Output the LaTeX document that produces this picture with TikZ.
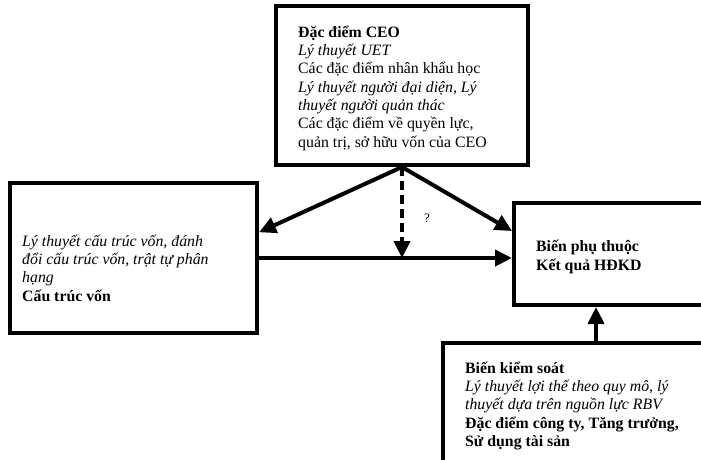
\documentclass[tikz,border=0pt]{standalone}
\usepackage{fontspec}
\setmainfont{Liberation Serif}
\usetikzlibrary{arrows.meta,calc}
\begin{document}
\begin{tikzpicture}[x=1pt,y=-1pt,
  box/.style={draw,line width=4pt,rectangle,inner sep=0pt},
  txt/.style={anchor=base west,align=left,inner sep=0pt,font=\fontsize{15.8}{18.3}\selectfont},
  arr/.style={line width=4pt,-{Triangle[length=17pt,width=16pt]}}]
\useasboundingbox (0,0) rectangle (701,459);
\clip (0,0) rectangle (701,459);
\fill[white] (0,0) rectangle (701,459);
\node[box,minimum width=252pt,minimum height=159pt] (ceo) at (402,85.5) {};
\node[box,minimum width=247pt,minimum height=150pt] (cap) at (133.5,258) {};
\node[box,minimum width=216pt,minimum height=102pt] (kq) at (622,254) {};
\node[box,minimum width=287pt,minimum height=137pt] (ctrl) at (586.5,411.5) {};
% base anchor of a multi-line node = baseline of its last line
\node[txt] (ceot) at (298,147) {\textbf{Đặc điểm CEO}\\\textit{Lý thuyết UET}\\Các đặc điểm nhân khẩu học\\\textit{Lý thuyết người đại diện, Lý}\\\textit{thuyết người quản thác}\\Các đặc điểm về quyền lực,\\quản trị, sở hữu vốn của CEO};
\node[txt] (capt) at (22,301) {\textit{Lý thuyết cấu trúc vốn, đánh}\\\textit{đổi cấu trúc vốn, trật tự phân}\\\textit{hạng}\\\textbf{Cấu trúc vốn}};
\node[txt] (kqt) at (536,270) {\textbf{Biến phụ thuộc}\\\textbf{Kết quả HĐKD}};
\node[txt] (ctrlt) at (465,446.5) {\textbf{Biến kiểm soát}\\\textit{Lý thuyết lợi thế theo quy mô, lý}\\\textit{thuyết dựa trên nguồn lực RBV}\\\textbf{Đặc điểm công ty, Tăng trưởng,}\\\textbf{Sử dụng tài sản}};
\node[anchor=base,inner sep=0pt,font=\fontsize{13}{15}\selectfont] (q) at (427,222) {?};
\draw[arr] (ceo.south) -- ($(cap.north east)!0.333!(cap.south east)$);
\draw[arr] (ceo.south) -- ($(kq.north west)+(0,30)$);
\draw[arr] (cap.east) -- (cap.east -| kq.west);
\coordinate (m) at (ceo.south |- cap.east);
\draw[arr,dash pattern=on 9pt off 5pt] (ceo.south) -- (m);
\coordinate (c1) at ($(ctrl.north west)+(155,0)$);
\draw[arr] (c1) -- (c1 |- kq.south);
\end{tikzpicture}
\end{document}
